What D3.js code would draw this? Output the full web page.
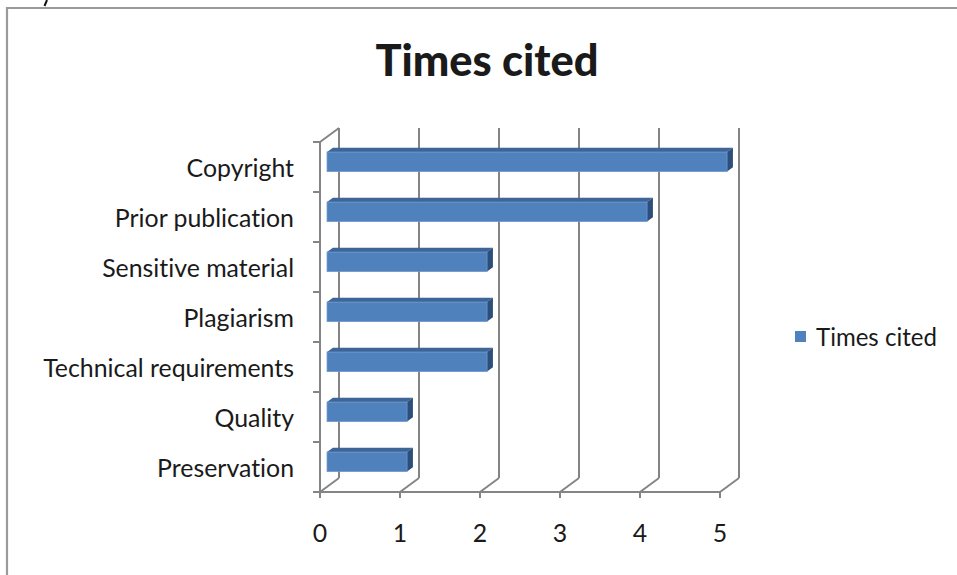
<!DOCTYPE html>
<html><head><meta charset="utf-8">
<script src="https://cdn.jsdelivr.net/npm/d3@7"></script>
<style>body{margin:0;background:#fff}svg{display:block}text{font-family:Lato,"Open Sans",sans-serif;fill:#1a1a1a;font-variant-ligatures:none;font-feature-settings:"liga" 0,"dlig" 0}</style>
</head><body><svg id="c" width="957" height="575"></svg>
<script>
const categories = ["Copyright","Prior publication","Sensitive material","Plagiarism","Technical requirements","Quality","Preservation"];
const values = [5,4,2,2,2,1,1];
const xTicks = [0,1,2,3,4,5];
const seriesName = "Times cited";
const title = "Times cited";

const svg = d3.select("#c");
svg.append("rect").attr("x",0).attr("y",0).attr("width",957).attr("height",575).attr("fill","#fff");
// fragment of text above the chart
svg.append("path").attr("d","M47,0 L44.5,6").attr("stroke","#111").attr("stroke-width",2);
// outer chart border
svg.append("path").attr("d","M7,580 V8 H962").attr("fill","none").attr("stroke","#9a9a9a").attr("stroke-width",2.2);

const x = d3.scaleLinear().domain([0,5]).range([320,720]);
const y = d3.scaleBand().domain(categories).range([142,492]).padding(0);
const DX = 19, DY = -14;
const grid = "#848484";
const sw = 2;
const g = svg.append("g");

// left wall
g.append("path").attr("d",`M${x(0)},${y.range()[0]} L${x(0)+DX},${y.range()[0]+DY}`).attr("stroke",grid).attr("stroke-width",sw).attr("fill","none");
g.append("line").attr("x1",x(0)).attr("x2",x(0)).attr("y1",y.range()[0]).attr("y2",y.range()[1]).attr("stroke",grid).attr("stroke-width",sw);
// back gridlines
xTicks.forEach(t=>{
  g.append("line").attr("x1",x(t)+DX).attr("x2",x(t)+DX).attr("y1",y.range()[0]+DY).attr("y2",y.range()[1]+DY).attr("stroke",grid).attr("stroke-width",sw);
  g.append("line").attr("x1",x(t)).attr("x2",x(t)+DX).attr("y1",y.range()[1]).attr("y2",y.range()[1]+DY).attr("stroke",grid).attr("stroke-width",sw);
  g.append("line").attr("x1",x(t)).attr("x2",x(t)).attr("y1",y.range()[1]).attr("y2",y.range()[1]+6).attr("stroke",grid).attr("stroke-width",sw);
});
// floor front line
g.append("line").attr("x1",x(0)-7).attr("x2",x(5)).attr("y1",y.range()[1]).attr("y2",y.range()[1]).attr("stroke",grid).attr("stroke-width",sw);
// category ticks
const bounds = categories.map(c=>y(c)).concat([y.range()[1]]);
bounds.forEach(b=>{
  g.append("line").attr("x1",x(0)-7).attr("x2",x(0)).attr("y1",b).attr("y2",b).attr("stroke",grid).attr("stroke-width",sw);
});

// bars
const f1 = 0.37, f2 = 0.68, bh = 19.5;
const xb = v => x(v) + f1*DX;
const bars = g.selectAll("g.bar").data(categories.map((c,i)=>({c,v:values[i]}))).join("g");
bars.each(function(d){
  const sel = d3.select(this);
  const yc = y(d.c) + y.bandwidth()/2 + f1*DY;
  const x0 = xb(0), x1 = xb(d.v), yt = yc - bh/2, yb = yc + bh/2;
  const ddx = (f2-f1)*DX, ddy = (f2-f1)*DY;
  sel.append("path").attr("d",`M${x0},${yt} L${x0+ddx},${yt+ddy} L${x1+ddx},${yt+ddy} L${x1},${yt} Z`).attr("fill","#3d6597");
  sel.append("path").attr("d",`M${x1},${yt} L${x1+ddx},${yt+ddy} L${x1+ddx},${yb+ddy} L${x1},${yb} Z`).attr("fill","#2c4e7b");
  sel.append("rect").attr("x",x0).attr("y",yt).attr("width",x1-x0).attr("height",bh).attr("fill","#4f81bd").attr("stroke","#6f98cc").attr("stroke-width",0.8);
});

function fit(sel, w){ const n = sel.node(); const s = parseFloat(sel.attr("font-size")); const l = n.getComputedTextLength(); sel.attr("font-size", s*w/l); return s*w/l; }

// category labels
const tmp = svg.append("text").attr("font-size",20).text("Technical requirements");
const fs = fit(tmp, 251); tmp.remove();
g.selectAll("text.cat").data(categories).join("text").attr("class","cat")
  .attr("x",294).attr("y",c=>y(c)+y.bandwidth()/2+9.5).attr("text-anchor","end").attr("font-size",fs).text(c=>c);
// x tick labels
g.selectAll("text.xt").data(xTicks).join("text").attr("class","xt")
  .attr("x",t=>x(t)).attr("y",542).attr("text-anchor","middle").attr("font-size",fs).text(t=>t);

// title
const tt = svg.append("text").attr("x",487).attr("y",76).attr("text-anchor","middle").attr("font-weight","900").attr("font-size",40).attr("fill","#000").text(title);
fit(tt, 223);
// legend
svg.append("rect").attr("x",795).attr("y",331).attr("width",11).attr("height",11).attr("fill","#4f81bd");
const lt = svg.append("text").attr("x",816).attr("y",345.5).attr("font-size",22).text(seriesName);
fit(lt, 121);
</script></body></html>
